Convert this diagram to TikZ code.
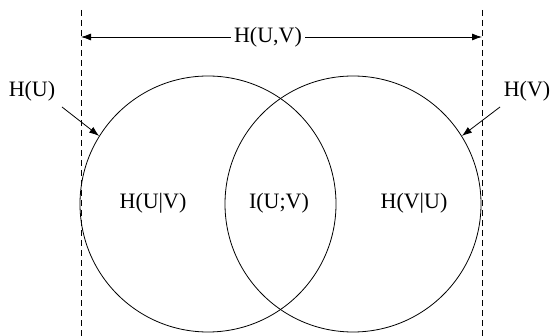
\documentclass[tikz,border=0pt]{standalone}
\usepackage{fontspec}
\setmainfont{Liberation Serif}
\usetikzlibrary{arrows.meta}
\begin{document}
\begin{tikzpicture}[x=1pt,y=-1pt,
  lbl/.style={font=\fontsize{22}{26}\selectfont, inner sep=0pt},
  guide/.style={dash pattern=on 6pt off 4pt, line width=0.8pt},
  venn/.style={circle, draw, line width=0.8pt, minimum size=256pt, inner sep=0pt},
  pointer/.style={line width=0.8pt, -{Latex[length=10pt,width=7pt]}}]
\useasboundingbox (0,0) rectangle (553,336);
% guides
\coordinate (lt) at (81,10);  \coordinate (lb) at (81,336);
\coordinate (rt) at (482,10); \coordinate (rb) at (482,336);
\draw[guide] (lt) -- (lb);
\draw[guide] (rt) -- (rb);
% circles
\node[venn] (lc) at (208,204) {};
\node[venn] (rc) at (353,204) {};
% joint entropy
\node[lbl] (huv) at (268,37) {H(U,V)};
\coordinate (la) at (81,37);
\coordinate (ra) at (482,37);
\draw[pointer] ([xshift=-3pt]huv.west) -- (la);
\draw[pointer] ([xshift=3pt]huv.east) -- (ra);
% marginal labels
\node[lbl] (hu) at (32,91) {H(U)};
\node[lbl] (hv) at (527,91) {H(V)};
\coordinate (hus) at (62,107);
\coordinate (hvs) at (500,107);
\draw[pointer] (hus) -- (lc.148);
\draw[pointer] (hvs) -- (rc.32);
% region labels
\node[lbl] (c1) at (153,203) {H(U|V)};
\node[lbl] (mi) at (279,203) {I(U;V)};
\node[lbl] (c2) at (414,203) {H(V|U)};
\end{tikzpicture}
\end{document}
